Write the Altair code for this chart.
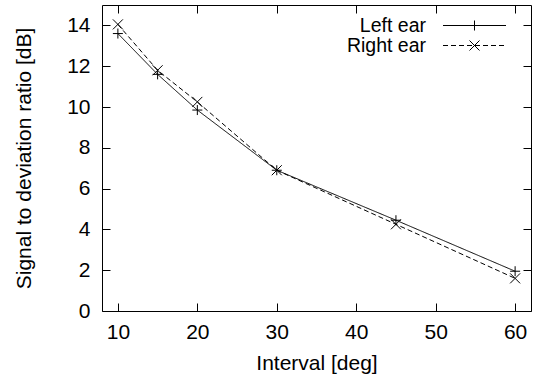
import altair as alt
import pandas as pd

# ---- data ----
intervals = [10, 15, 20, 30, 45, 60]
left_ear = [13.6, 11.6, 9.85, 6.9, 4.45, 1.95]
right_ear = [14.05, 11.8, 10.25, 6.9, 4.25, 1.6]
series = ["Left ear", "Right ear"]
x_ticks = [10, 20, 30, 40, 50, 60]
y_ticks = [0, 2, 4, 6, 8, 10, 12, 14]

rows = []
for i, v in zip(intervals, left_ear):
    rows.append({"interval": i, "value": v, "series": series[0]})
for i, v in zip(intervals, right_ear):
    rows.append({"interval": i, "value": v, "series": series[1]})
df = pd.DataFrame(rows)

FONT = "Liberation Sans"
FS = 21
PLUS = "M-1,0L1,0M0,-1L0,1"
CROSS = "M-1,-1L1,1M-1,1L1,-1"
DASHES = [[1, 0], [5, 3]]

xscale = alt.Scale(domain=[8, 62], nice=False, zero=False)
yscale = alt.Scale(domain=[0, 15], nice=False, zero=False)

TICK = 8
axis_common = dict(domain=False, grid=False, tickSize=TICK, offset=-TICK,
                   tickColor="black", tickWidth=1, labelColor="black",
                   titleColor="black", labelFont=FONT, titleFont=FONT,
                   labelFontSize=FS, titleFontSize=FS, titleFontWeight="normal")

x_bottom = alt.Axis(values=x_ticks, orient="bottom", title="Interval [deg]",
                    labelPadding=10, titlePadding=10, **axis_common)
y_left = alt.Axis(values=y_ticks, orient="left", title="Signal to deviation ratio [dB]",
                  labelPadding=12, titlePadding=32, **axis_common)
x_top = alt.Axis(values=x_ticks, orient="top", labels=False, title=None, **axis_common)
y_right = alt.Axis(values=y_ticks, orient="right", labels=False, title=None, **axis_common)

dash = alt.StrokeDash("series:N", scale=alt.Scale(domain=series, range=DASHES), legend=None)
shape = alt.Shape("series:N", scale=alt.Scale(domain=series, range=[PLUS, CROSS]), legend=None)

base = alt.Chart(df)

lines = base.mark_line(color="black", strokeWidth=1).encode(
    x=alt.X("interval:Q", scale=xscale, axis=x_bottom),
    y=alt.Y("value:Q", scale=yscale, axis=y_left),
    strokeDash=dash,
    detail="series:N",
)

points = base.mark_point(filled=False, color="black", size=100, strokeWidth=1, opacity=1).encode(
    x=alt.X("interval:Q", scale=xscale, axis=x_top),
    y=alt.Y("value:Q", scale=yscale, axis=y_right),
    shape=shape,
)

# ---- manual legend (top right, label left of sample) ----
legend_layers = []
for name, ypix in zip(series, [20.5, 40.5]):
    ldf = pd.DataFrame({"series": [name]})
    legend_layers.append(alt.Chart(ldf).mark_text(
        align="right", baseline="middle", font=FONT, fontSize=19.5, color="black"
    ).encode(x=alt.value(324), y=alt.value(ypix), text="series:N"))
    legend_layers.append(alt.Chart(ldf).mark_rule(color="black", strokeWidth=1).encode(
        x=alt.value(341), x2=alt.value(404), y=alt.value(ypix), strokeDash=dash))
    legend_layers.append(alt.Chart(ldf).mark_point(
        filled=False, color="black", size=100, strokeWidth=1, opacity=1
    ).encode(x=alt.value(372.5), y=alt.value(ypix), shape=shape))

chart = alt.layer(lines, points, *legend_layers).resolve_axis(
    x="independent", y="independent"
).properties(
    width=429, height=306,
    padding={"left": 102, "top": 5, "right": 6, "bottom": 70},
    autosize=alt.AutoSizeParams(type="none"),
    background="white",
).configure_view(stroke="black", strokeWidth=1)

chart.save("out.html", embed_options={"renderer": "svg", "actions": False})
